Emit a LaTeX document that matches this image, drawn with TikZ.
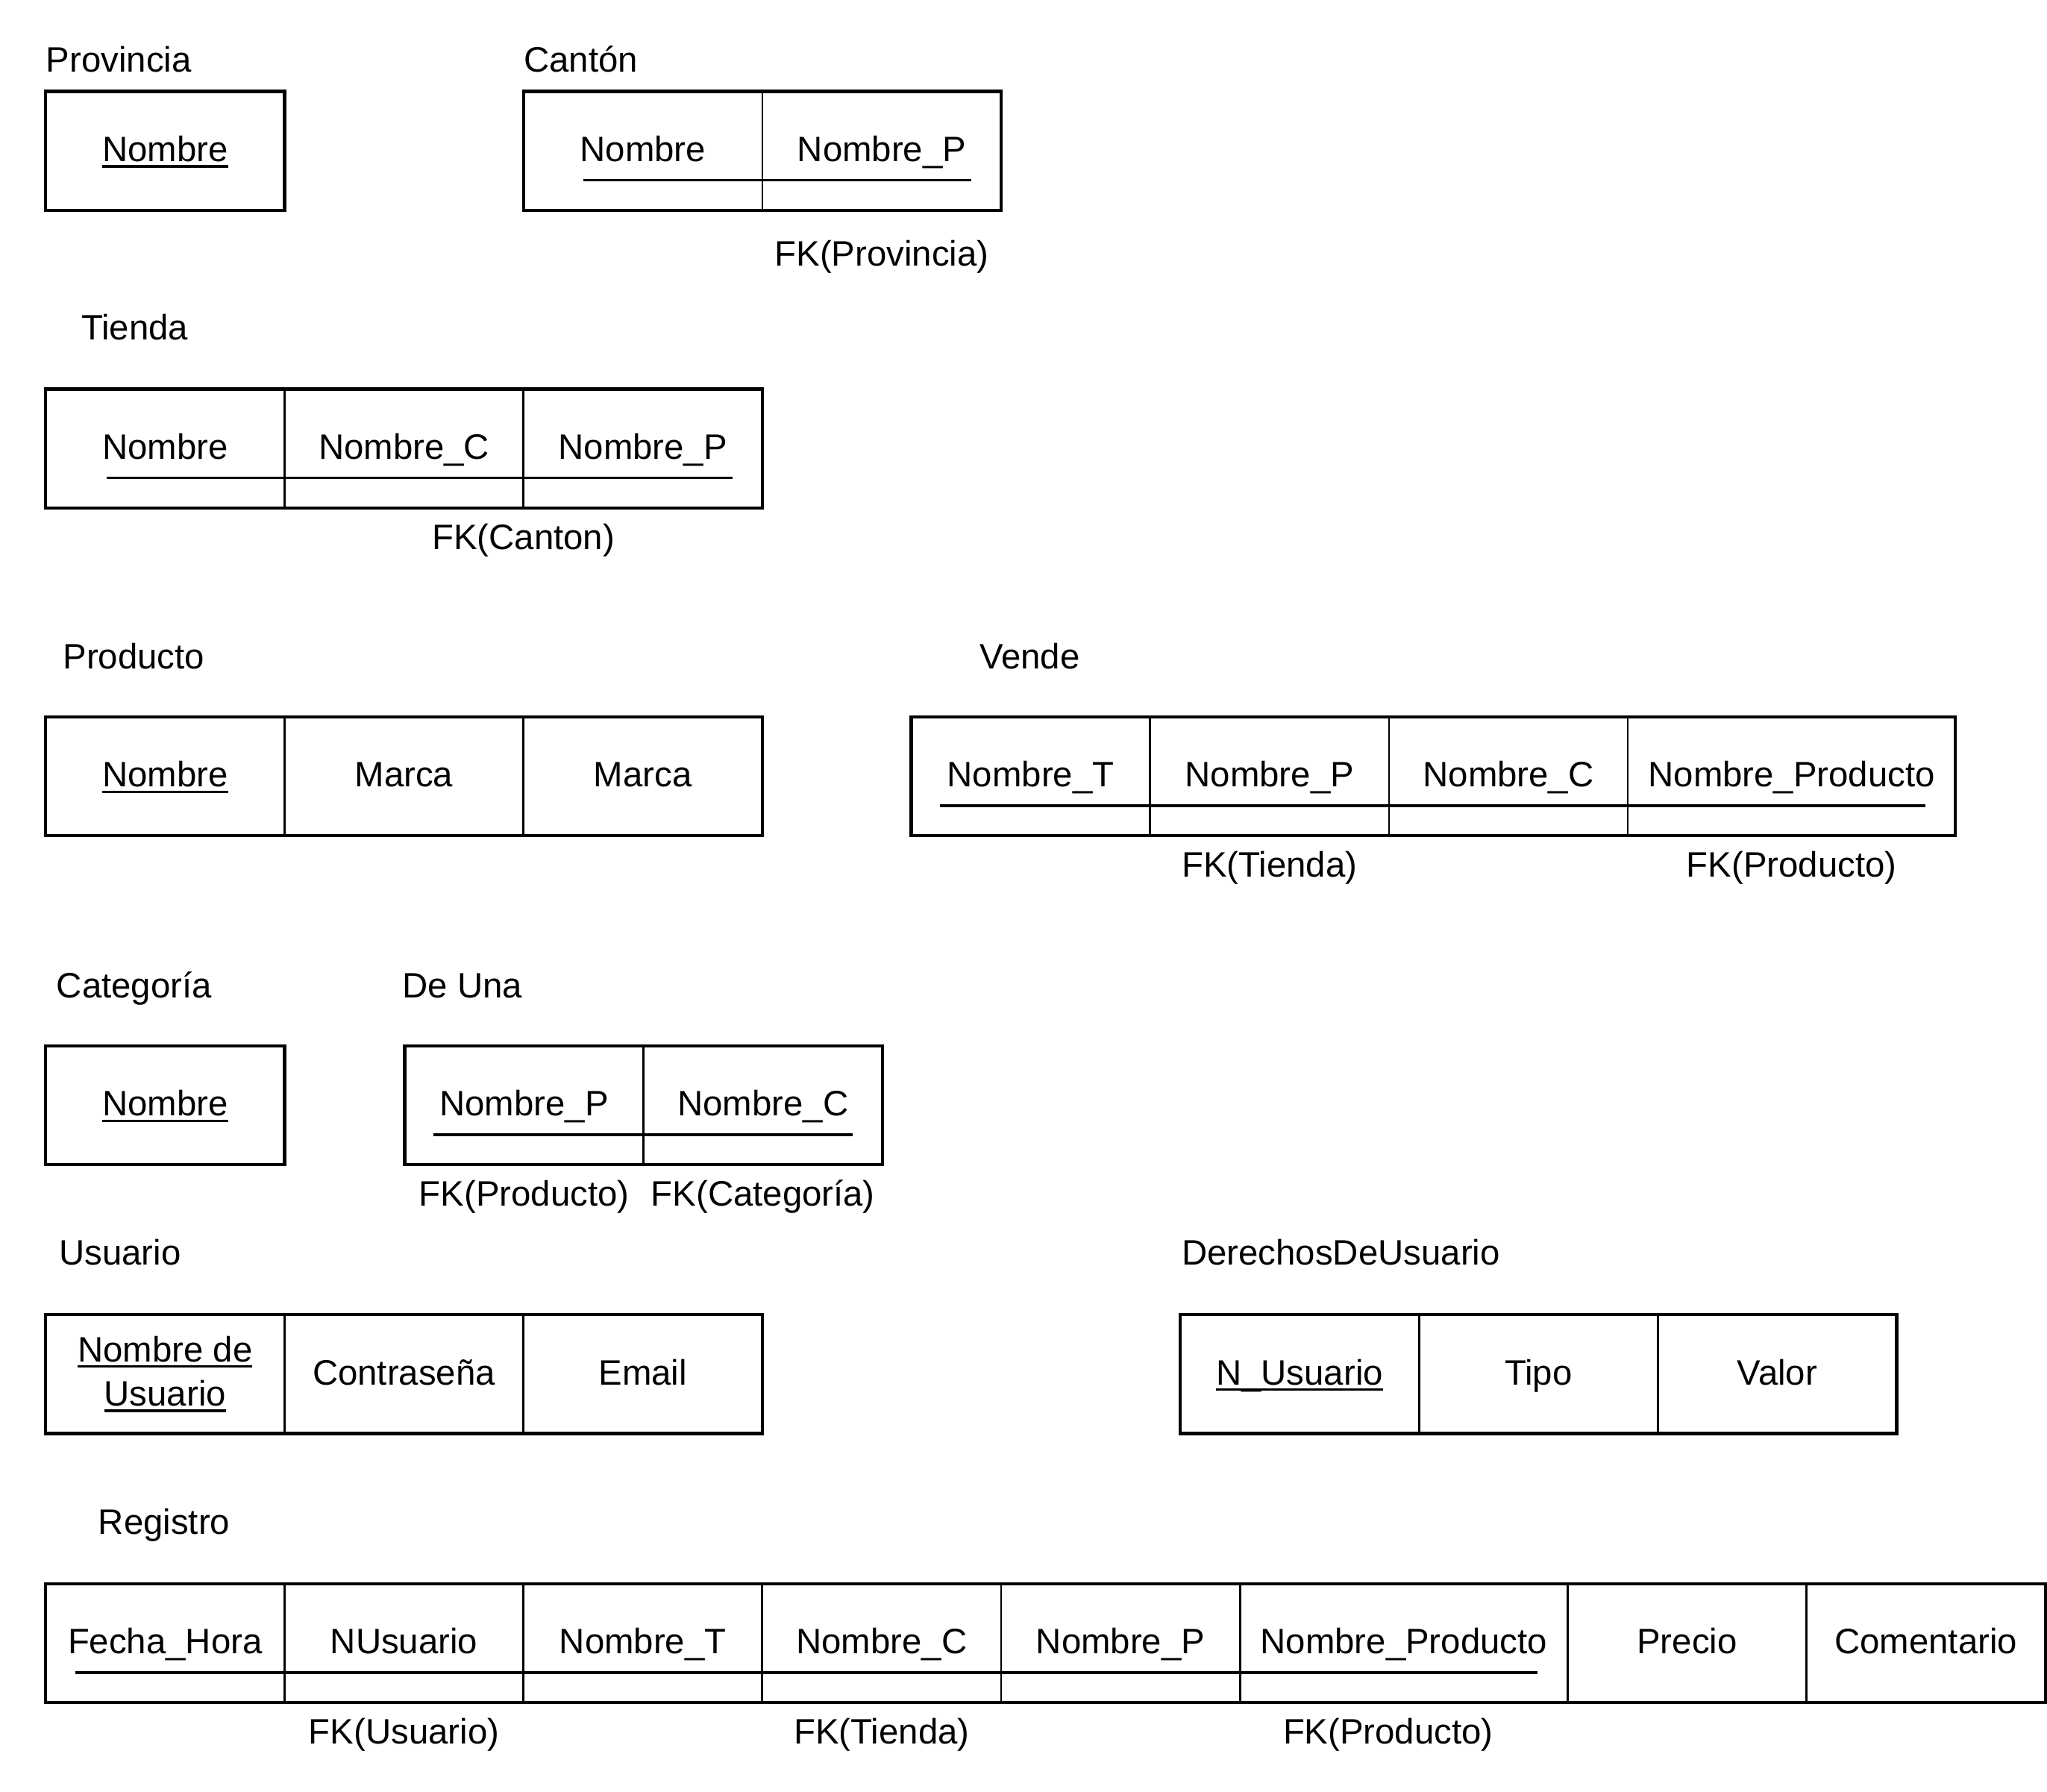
\documentclass[tikz,border=0pt]{standalone}
\usepackage{fontspec}
\setmainfont{Liberation Sans}
\usepackage{tikz}
\usetikzlibrary{positioning}

\newcommand{\letra}{\fontsize{15.4}{19.3}\selectfont}
\newcommand{\llave}[1]{\setbox0\hbox{#1}\rlap{\rule[-2.6pt]{\wd0}{1.1pt}}\box0}

\tikzset{
  celdabase/.style={draw, line width=0.9pt, minimum width=3.66cm, minimum height=1.82cm,
    inner sep=0pt, outer sep=0pt, font=\letra, align=center},
  celda/.style={celdabase, text height=9.5pt, text depth=0pt},
  celdaancha/.style={celda, minimum width=5.02cm},
  borde/.style={line width=1.4pt},
  clave/.style={line width=1.2pt},
  titulo/.style={anchor=base west, inner sep=0pt, font=\letra},
  fk/.style={inner sep=0pt, font=\letra, text height=11pt, text depth=0pt}
}

\begin{document}
\begin{tikzpicture}[x=0.02cm,y=-0.02cm]
  \useasboundingbox[fill=white] (0,0) rectangle (1568,1372);

  % Provincia
  \node[titulo] (tProvincia) at (35,55) {Provincia};
  \node[celda, anchor=north west] (p1) at (35,70) {\llave{Nombre}};
  \draw[borde] (p1.north west) rectangle (p1.south east);

  % Canton
  \node[titulo] (tCanton) at (401,55) {Cantón};
  \node[celda, anchor=north west] (c1) at (401,70) {Nombre};
  \node[celda, right=0pt of c1] (c2) {Nombre\_P};
  \draw[borde] (c1.north west) rectangle (c2.south east);
  \draw[clave] ([xshift=0.92cm,yshift=0.46cm]c1.south west) -- ([xshift=-0.46cm,yshift=0.46cm]c2.south east);
  \node[fk, below=0.46cm of c2] (fkc) {FK(Provincia)};

  % Tienda
  \node[titulo] (tTienda) at (62,260.5) {Tienda};
  \node[celda, anchor=north west] (t1) at (35,298) {Nombre};
  \node[celda, right=0pt of t1] (t2) {Nombre\_C};
  \node[celda, right=0pt of t2] (t3) {Nombre\_P};
  \draw[borde] (t1.north west) rectangle (t3.south east);
  \draw[clave] ([xshift=0.94cm,yshift=0.46cm]t1.south west) -- ([xshift=-0.46cm,yshift=0.46cm]t3.south east);
  \node[fk, below=0.24cm of t2.south east] (fkt) {FK(Canton)};

  % Producto
  \node[titulo] (tProducto) at (48,512) {Producto};
  \node[celda, anchor=north west] (pr1) at (35,549) {\llave{Nombre}};
  \node[celda, right=0pt of pr1] (pr2) {Marca};
  \node[celda, right=0pt of pr2] (pr3) {Marca};
  \draw[borde] (pr1.north west) rectangle (pr3.south east);

  % Vende
  \node[titulo] (tVende) at (750,512) {Vende};
  \node[celda, anchor=north west] (v1) at (698,549) {Nombre\_T};
  \node[celda, right=0pt of v1] (v2) {Nombre\_P};
  \node[celda, right=0pt of v2] (v3) {Nombre\_C};
  \node[celdaancha, right=0pt of v3] (v4) {Nombre\_Producto};
  \draw[borde] (v1.north west) rectangle (v4.south east);
  \draw[clave] ([xshift=0.44cm,yshift=0.46cm]v1.south west) -- ([xshift=-0.46cm,yshift=0.46cm]v4.south east);
  \node[fk, below=0.24cm of v2] (fkv1) {FK(Tienda)};
  \node[fk, below=0.24cm of v4] (fkv2) {FK(Producto)};

  % Categoria
  \node[titulo] (tCategoria) at (43,764) {Categoría};
  \node[celda, anchor=north west] (ca1) at (35,801) {\llave{Nombre}};
  \draw[borde] (ca1.north west) rectangle (ca1.south east);

  % De Una
  \node[titulo] (tDeUna) at (308,764) {De Una};
  \node[celda, anchor=north west] (d1) at (310,801) {Nombre\_P};
  \node[celda, right=0pt of d1] (d2) {Nombre\_C};
  \draw[borde] (d1.north west) rectangle (d2.south east);
  \draw[clave] ([xshift=0.44cm,yshift=0.46cm]d1.south west) -- ([xshift=-0.46cm,yshift=0.46cm]d2.south east);
  \node[fk, below=0.24cm of d1] (fkd1) {FK(Producto)};
  \node[fk, below=0.24cm of d2] (fkd2) {FK(Categoría)};

  % Usuario
  \node[titulo] (tUsuario) at (45,969) {Usuario};
  \node[celdabase, anchor=north west] (u1) at (35,1007) {\llave{Nombre de}\\\llave{Usuario}};
  \node[celda, right=0pt of u1] (u2) {Contraseña};
  \node[celda, right=0pt of u2] (u3) {Email};
  \draw[borde] (u1.north west) rectangle (u3.south east);

  % Derechos de usuario
  \node[titulo] (tDerechos) at (905,969) {DerechosDeUsuario};
  \node[celda, anchor=north west] (du1) at (904,1007) {\llave{N\_Usuario}};
  \node[celda, right=0pt of du1] (du2) {Tipo};
  \node[celda, right=0pt of du2] (du3) {Valor};
  \draw[borde] (du1.north west) rectangle (du3.south east);

  % Registro
  \node[titulo] (tRegistro) at (75,1175) {Registro};
  \node[celda, anchor=north west] (r1) at (35,1213) {Fecha\_Hora};
  \node[celda, right=0pt of r1] (r2) {NUsuario};
  \node[celda, right=0pt of r2] (r3) {Nombre\_T};
  \node[celda, right=0pt of r3] (r4) {Nombre\_C};
  \node[celda, right=0pt of r4] (r5) {Nombre\_P};
  \node[celdaancha, right=0pt of r5] (r6) {Nombre\_Producto};
  \node[celda, right=0pt of r6] (r7) {Precio};
  \node[celda, right=0pt of r7] (r8) {Comentario};
  \draw[borde] (r1.north west) rectangle (r8.south east);
  \draw[clave] ([xshift=0.46cm,yshift=0.46cm]r1.south west) -- ([xshift=-0.46cm,yshift=0.46cm]r6.south east);
  \node[fk, below=0.24cm of r2] (fkr1) {FK(Usuario)};
  \node[fk, below=0.24cm of r4] (fkr2) {FK(Tienda)};
  \node[fk, below=0.24cm of r6, xshift=-0.24cm] (fkr3) {FK(Producto)};
\end{tikzpicture}
\end{document}
